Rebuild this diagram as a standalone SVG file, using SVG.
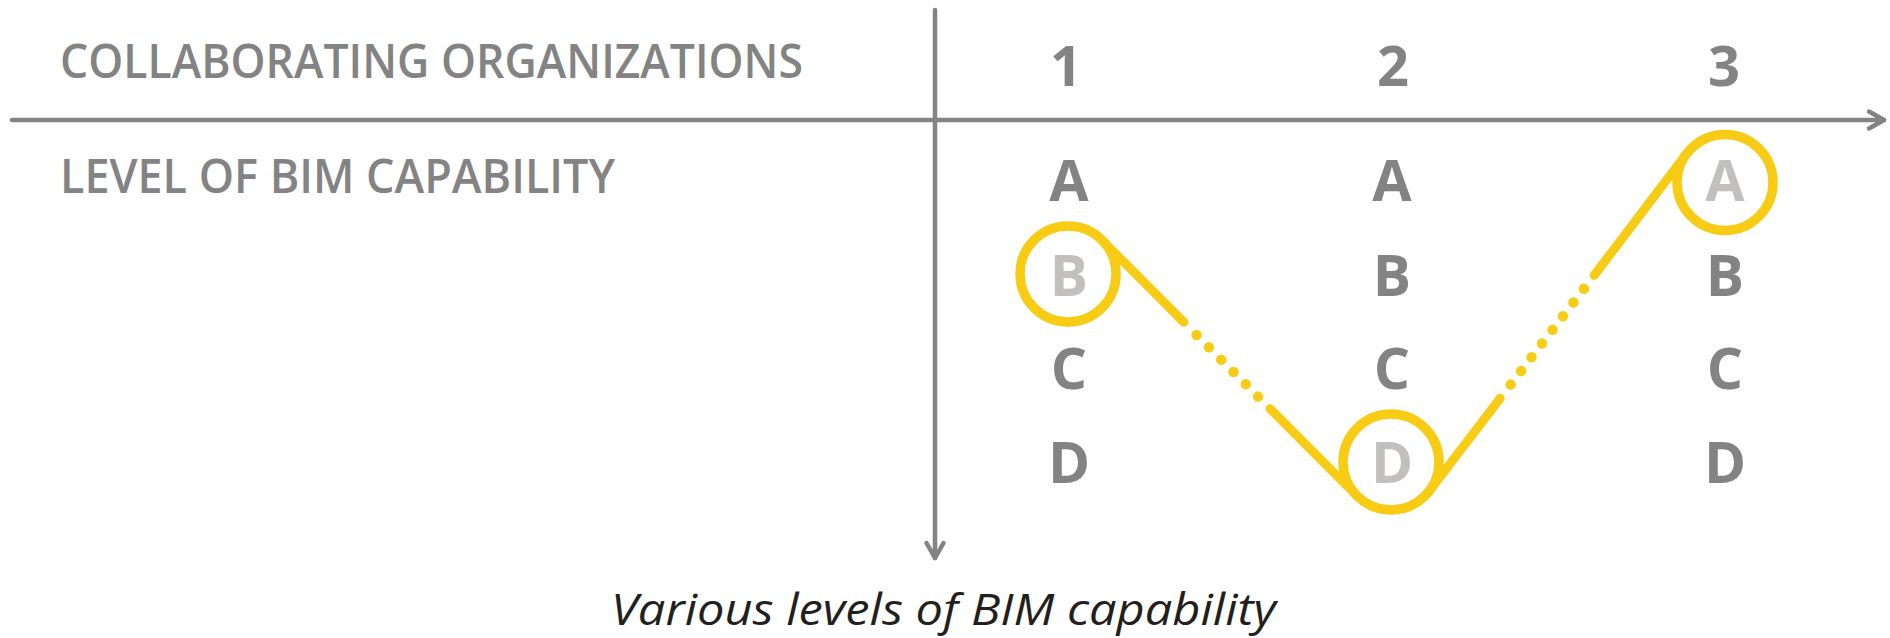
<svg xmlns="http://www.w3.org/2000/svg" width="1890" height="638" viewBox="0 0 1890 638">
<style>
.hdr{font-family:"Open Sans","Liberation Sans",sans-serif;font-weight:600;font-size:47px;fill:#838383}
.num{font-family:"Open Sans","Liberation Sans",sans-serif;font-weight:700;font-size:56px;fill:#838383;text-anchor:middle}
.lvl{font-family:"Open Sans","Liberation Sans",sans-serif;font-weight:700;font-size:57px;fill:#838383;text-anchor:middle}
.sel{fill:#c1c0be}
.cap{font-family:"Open Sans","Liberation Sans",sans-serif;font-style:italic;font-weight:400;font-size:44px;fill:#231f20}
.axis{stroke:#838383;stroke-width:4.5;fill:none;stroke-linecap:round}
.ring{fill:none;stroke:#f8cc14;stroke-width:9.5}
.yl{fill:none;stroke:#f8cc14;stroke-width:9;stroke-linecap:round}
.dot1{stroke-dasharray:0 17.4;stroke-width:10.5}
.dot2{stroke-dasharray:0 17.23;stroke-width:10.5}
</style>
<defs>
<marker id="chev" markerUnits="userSpaceOnUse" markerWidth="24" markerHeight="24" viewBox="-20 -12 24 24" refX="0" refY="0" orient="auto">
<path d="M-15,-8.5 L0,0 L-15,8.5" fill="none" stroke="#838383" stroke-width="4.5" stroke-linecap="round" stroke-linejoin="round"/>
</marker>
</defs>
<rect width="1890" height="638" fill="#ffffff"/>
<g id="connectors">
<line id="x-axis" class="axis" x1="12" y1="120" x2="1884" y2="120" marker-end="url(#chev)"/>
<line id="y-axis" class="axis" x1="935" y1="10" x2="935" y2="558" marker-end="url(#chev)"/>
<g id="path-1-2">
<line class="yl" x1="1102" y1="240.1" x2="1183.9" y2="322.3"/>
<line class="yl dot1" x1="1196.6" y1="335" x2="1258.4" y2="397"/>
<line class="yl" x1="1270" y1="408.7" x2="1357" y2="495.9"/>
</g>
<g id="path-2-3">
<line class="yl" x1="1429.1" y1="491.2" x2="1500.2" y2="398.3"/>
<line class="yl dot2" x1="1510.6" y1="384.6" x2="1584.5" y2="288"/>
<line class="yl" x1="1594.2" y1="275.3" x2="1686.9" y2="153.3"/>
</g>
</g>
<g id="label-orgs"><text class="hdr" x="60" y="78" textLength="743" lengthAdjust="spacingAndGlyphs">COLLABORATING ORGANIZATIONS</text></g>
<g id="label-level"><text class="hdr" x="60" y="193" textLength="555" lengthAdjust="spacingAndGlyphs">LEVEL OF BIM CAPABILITY</text></g>
<g id="org-1">
<text class="num" x="1066" y="86">1</text>
<text class="lvl" x="1069" y="201">A</text>
<text class="lvl sel" x="1069" y="296">B</text>
<text class="lvl" x="1069" y="389">C</text>
<text class="lvl" x="1069" y="483">D</text>
<circle class="ring" cx="1068" cy="274" r="48"/>
</g>
<g id="org-2">
<text class="num" x="1393" y="86">2</text>
<text class="lvl" x="1392" y="201">A</text>
<text class="lvl" x="1392" y="296">B</text>
<text class="lvl" x="1392" y="389">C</text>
<text class="lvl sel" x="1392" y="483">D</text>
<circle class="ring" cx="1391" cy="462" r="48"/>
</g>
<g id="org-3">
<text class="num" x="1724" y="86">3</text>
<text class="lvl sel" x="1725" y="201">A</text>
<text class="lvl" x="1725" y="296">B</text>
<text class="lvl" x="1725" y="389">C</text>
<text class="lvl" x="1725" y="483">D</text>
<circle class="ring" cx="1725" cy="182.5" r="48"/>
</g>
<g id="caption"><text class="cap" x="611" y="625" textLength="665" lengthAdjust="spacingAndGlyphs">Various levels of BIM capability</text></g>
</svg>
